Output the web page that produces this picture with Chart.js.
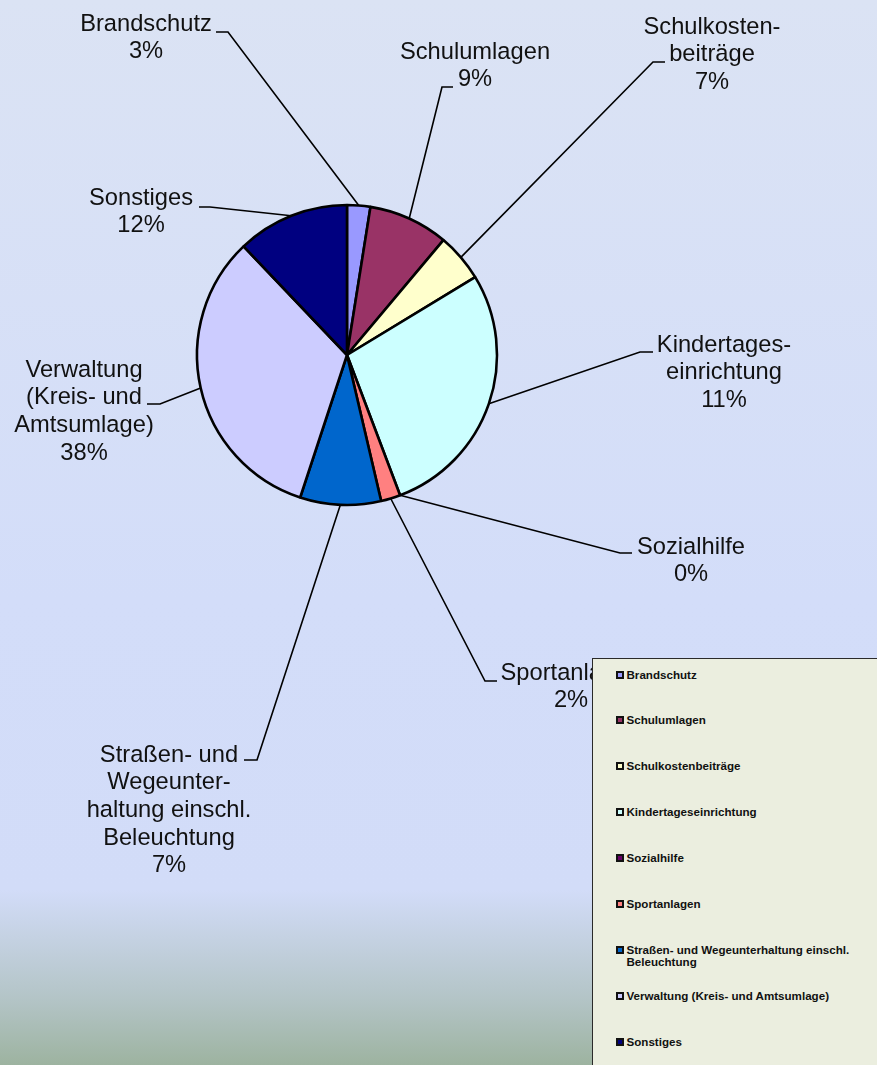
<!DOCTYPE html>
<html>
<head>
<meta charset="utf-8">
<script src="https://cdn.jsdelivr.net/npm/chart.js@4.4.1/dist/chart.umd.min.js"></script>
<style>
  html, body { margin: 0; padding: 0; }
  body {
    width: 877px; height: 1065px; overflow: hidden; position: relative;
    background: linear-gradient(to bottom, #dbe3f4 0px, #d3ddf9 600px, #d2dcf8 890px, #b3c4c6 1000px, #9db3a0 1065px);
    font-family: "Liberation Sans", Arial, sans-serif;
  }
  #c { position: absolute; left: 0; top: 0; }
  #legend {
    position: absolute; left: 592px; top: 658px; width: 300px; height: 420px;
    background: #ebeedf; border: 1.5px solid #2a2a2a; box-sizing: border-box;
  }
  .item { position: absolute; left: 33.5px; font-weight: bold; font-size: 11.6px; line-height: 12.5px; color: #111; width: 240px; }
  .mk { position: absolute; left: -10.5px; top: 2px; width: 4px; height: 4px; border: 2px solid #111; }
</style>
</head>
<body>
<canvas id="c" width="877" height="1065"></canvas>
<div id="legend"></div>
<script>
// ---- data ----
const categories = ['Brandschutz', 'Schulumlagen', 'Schulkostenbeiträge', 'Kindertageseinrichtung', 'Sozialhilfe', 'Sportanlagen', 'Straßen- und Wegeunterhaltung einschl. Beleuchtung', 'Verwaltung (Kreis- und Amtsumlage)', 'Sonstiges'];
const sliceValues = [2.5, 8.6, 5.2, 27.9, 0, 2.1, 8.7, 32.8, 12.1];
const labelPercents = ['3%', '9%', '7%', '11%', '0%', '2%', '7%', '38%', '12%'];
const labelLines = [
  ['Brandschutz'],
  ['Schulumlagen'],
  ['Schulkosten-', 'beiträge'],
  ['Kindertages-', 'einrichtung'],
  ['Sozialhilfe'],
  ['Sportanlagen'],
  ['Straßen- und', 'Wegeunter-', 'haltung einschl.', 'Beleuchtung'],
  ['Verwaltung', '(Kreis- und', 'Amtsumlage)'],
  ['Sonstiges']
];
const sliceColors = ['#9999ff', '#993366', '#ffffcc', '#ccffff', '#660066', '#ff8080', '#0066cc', '#ccccff', '#000080'];

// ---- label layout (text centre x, first line y, elbow x/y, horizontal end x) ----
const labelLayout = [
  { tx: 146, ty: 24,  ex: 228, ey: 32,  hx: 216 },
  { tx: 475, ty: 52,  ex: 442, ey: 87,  hx: 453 },
  { tx: 712, ty: 27,  ex: 653, ey: 62,  hx: 665 },
  { tx: 724, ty: 345, ex: 640, ey: 352, hx: 653 },
  { tx: 691, ty: 547, ex: 620, ey: 553, hx: 632 },
  { tx: 571, ty: 673, ex: 485, ey: 681, hx: 497 },
  { tx: 169, ty: 755, ex: 257, ey: 760, hx: 244 },
  { tx: 84,  ty: 370, ex: 160, ey: 404, hx: 147 },
  { tx: 141, ty: 198, ex: 210, ey: 207, hx: 199 }
];
const LINE_H = 27.7;

const leaderLabels = {
  id: 'leaderLabels',
  afterDatasetsDraw(chart) {
    const ctx = chart.ctx;
    const meta = chart.getDatasetMeta(0);
    ctx.save();
    meta.data.forEach((arc, i) => {
      const p = arc.getProps(['startAngle', 'endAngle', 'x', 'y', 'outerRadius'], true);
      const mid = (p.startAngle + p.endAngle) / 2;
      const sx = p.x + p.outerRadius * Math.cos(mid);
      const sy = p.y + p.outerRadius * Math.sin(mid);
      const L = labelLayout[i];
      ctx.beginPath();
      ctx.strokeStyle = '#000';
      ctx.lineWidth = 1.6;
      ctx.moveTo(sx, sy);
      ctx.lineTo(L.ex, L.ey);
      ctx.lineTo(L.hx, L.ey);
      ctx.stroke();
      const lines = labelLines[i].concat([labelPercents[i]]);
      ctx.fillStyle = '#111';
      ctx.font = '23.7px "Liberation Sans", Arial, sans-serif';
      ctx.textAlign = 'center';
      ctx.textBaseline = 'middle';
      lines.forEach((t, k) => ctx.fillText(t, L.tx, L.ty + k * LINE_H));
    });
    ctx.restore();
  }
};

new Chart(document.getElementById('c'), {
  type: 'pie',
  data: {
    labels: categories,
    datasets: [{
      data: sliceValues,
      backgroundColor: sliceColors,
      borderColor: '#000',
      borderWidth: 2.6
    }]
  },
  options: {
    responsive: false,
    animation: false,
    radius: 150,
    layout: { padding: { left: 197, top: 205, right: 380, bottom: 560 } },
    plugins: { legend: { display: false }, tooltip: { enabled: false } }
  },
  plugins: [leaderLabels]
});

// ---- legend ----
const legend = document.getElementById('legend');
categories.forEach((name, i) => {
  const d = document.createElement('div');
  d.className = 'item';
  d.style.top = (675 - 658 - 7.5 + i * 45.9) + 'px';
  const mk = document.createElement('span');
  mk.className = 'mk';
  mk.style.background = sliceColors[i];
  d.appendChild(mk);
  d.appendChild(document.createTextNode(name));
  legend.appendChild(d);
});
</script>
</body>
</html>
